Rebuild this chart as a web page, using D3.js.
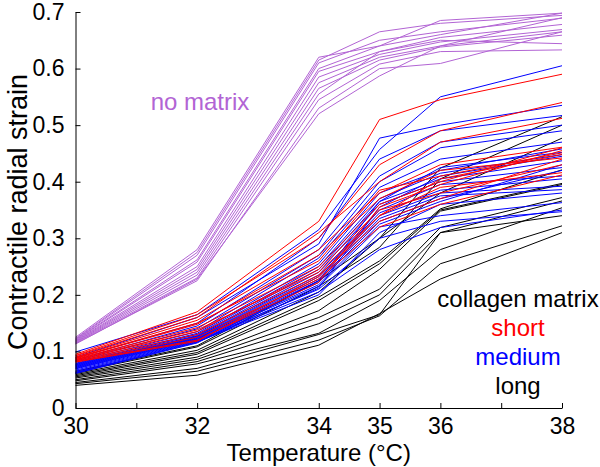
<!DOCTYPE html>
<html>
<head>
<meta charset="utf-8">
<script src="https://cdn.jsdelivr.net/npm/d3@7"></script>
<style>
  body { margin: 0; background: #fff; }
  svg text { font-family: "Liberation Sans", Arial, sans-serif; }
</style>
</head>
<body>
<div id="container"></div>
<script>
// temperatures where each trace was measured
const temps = [30, 32, 34, 35, 36, 38];
const xTicks = [30, 31, 32, 33, 34, 35, 36, 37, 38];
const xLabels = [30, 32, 34, 35, 36, 38];
const yTicks = [0, 0.1, 0.2, 0.3, 0.4, 0.5, 0.6, 0.7];

// no matrix (purple)
const noMatrix = [
  [0.125, 0.280, 0.620, 0.640, 0.685, 0.698],
  [0.123, 0.275, 0.615, 0.665, 0.680, 0.694],
  [0.122, 0.270, 0.610, 0.650, 0.665, 0.689],
  [0.121, 0.262, 0.600, 0.640, 0.660, 0.698],
  [0.120, 0.258, 0.595, 0.630, 0.655, 0.678],
  [0.119, 0.250, 0.585, 0.625, 0.647, 0.669],
  [0.118, 0.245, 0.575, 0.620, 0.640, 0.665],
  [0.117, 0.240, 0.565, 0.615, 0.638, 0.659],
  [0.116, 0.235, 0.555, 0.630, 0.650, 0.644],
  [0.115, 0.230, 0.545, 0.608, 0.630, 0.633],
  [0.114, 0.225, 0.530, 0.600, 0.609, 0.665],
  [0.113, 0.228, 0.520, 0.587, 0.640, 0.690]
];

// collagen matrix, short (red)
const shortMatrix = [
  [0.095, 0.170, 0.330, 0.510, 0.545, 0.590],
  [0.093, 0.165, 0.300, 0.430, 0.490, 0.540],
  [0.092, 0.160, 0.310, 0.400, 0.470, 0.512],
  [0.090, 0.155, 0.280, 0.380, 0.430, 0.461],
  [0.089, 0.150, 0.260, 0.385, 0.410, 0.451],
  [0.088, 0.148, 0.270, 0.370, 0.420, 0.442],
  [0.087, 0.142, 0.250, 0.360, 0.400, 0.460],
  [0.086, 0.138, 0.240, 0.340, 0.390, 0.416],
  [0.085, 0.135, 0.245, 0.350, 0.380, 0.430],
  [0.084, 0.130, 0.235, 0.330, 0.370, 0.440],
  [0.083, 0.125, 0.228, 0.320, 0.360, 0.412],
  [0.082, 0.120, 0.222, 0.355, 0.395, 0.455],
  [0.081, 0.118, 0.232, 0.340, 0.405, 0.448]
];

// collagen matrix, medium (blue)
const mediumMatrix = [
  [0.099, 0.165, 0.315, 0.457, 0.550, 0.605],
  [0.090, 0.160, 0.290, 0.477, 0.500, 0.535],
  [0.088, 0.150, 0.300, 0.440, 0.490, 0.517],
  [0.085, 0.145, 0.280, 0.410, 0.470, 0.500],
  [0.083, 0.140, 0.270, 0.400, 0.460, 0.490],
  [0.081, 0.135, 0.265, 0.390, 0.440, 0.470],
  [0.079, 0.132, 0.255, 0.380, 0.420, 0.458],
  [0.078, 0.130, 0.250, 0.370, 0.415, 0.448],
  [0.077, 0.128, 0.245, 0.365, 0.405, 0.437],
  [0.076, 0.127, 0.240, 0.360, 0.400, 0.425],
  [0.075, 0.126, 0.235, 0.350, 0.395, 0.410],
  [0.074, 0.125, 0.232, 0.345, 0.385, 0.405],
  [0.073, 0.124, 0.228, 0.340, 0.380, 0.392],
  [0.072, 0.123, 0.225, 0.335, 0.375, 0.386],
  [0.071, 0.122, 0.222, 0.330, 0.370, 0.420],
  [0.070, 0.121, 0.218, 0.325, 0.365, 0.430],
  [0.069, 0.120, 0.215, 0.320, 0.340, 0.363],
  [0.067, 0.119, 0.210, 0.300, 0.330, 0.347],
  [0.065, 0.118, 0.205, 0.280, 0.319, 0.350],
  [0.063, 0.117, 0.200, 0.310, 0.360, 0.380],
  [0.062, 0.116, 0.212, 0.355, 0.410, 0.445],
  [0.061, 0.115, 0.225, 0.365, 0.425, 0.452]
];

// collagen matrix, long (black)
const longMatrix = [
  [0.065, 0.110, 0.225, 0.300, 0.424, 0.515],
  [0.063, 0.108, 0.215, 0.284, 0.405, 0.500],
  [0.061, 0.102, 0.205, 0.300, 0.380, 0.477],
  [0.059, 0.098, 0.196, 0.260, 0.352, 0.421],
  [0.057, 0.095, 0.190, 0.255, 0.350, 0.397],
  [0.055, 0.090, 0.172, 0.245, 0.348, 0.395],
  [0.053, 0.086, 0.160, 0.210, 0.319, 0.372],
  [0.050, 0.082, 0.149, 0.200, 0.310, 0.366],
  [0.048, 0.078, 0.132, 0.190, 0.280, 0.354],
  [0.045, 0.070, 0.130, 0.165, 0.310, 0.340],
  [0.043, 0.065, 0.120, 0.163, 0.255, 0.322],
  [0.040, 0.058, 0.111, 0.167, 0.228, 0.310]
];

const groups = [
  { rows: longMatrix, color: "#000000" },
  { rows: mediumMatrix, color: "#0000ff" },
  { rows: shortMatrix, color: "#ff0000" },
  { rows: noMatrix, color: "#b264d4" }
];

const width = 600;
const height = 467;

const svg = d3.select("#container")
              .append("svg")
              .attr("width", width)
              .attr("height", height);

const xScale = d3.scaleLinear().domain([30, 38]).range([75.5, 562]);
const yScale = d3.scaleLinear().domain([0, 0.7]).range([408, 12]);

const line = d3.line()
               .x((d, i) => xScale(temps[i]))
               .y((d) => yScale(d));

groups.forEach((g) => {
  svg.append("g")
     .selectAll("path")
     .data(g.rows)
     .enter()
     .append("path")
     .attr("d", line)
     .attr("fill", "none")
     .attr("stroke", g.color)
     .attr("stroke-width", 1);
});

const xAxis = d3.axisBottom(xScale)
                .tickValues(xTicks)
                .tickFormat((d) => xLabels.includes(d) ? d : "")
                .tickSizeInner(-5)
                .tickSizeOuter(0)
                .tickPadding(10);
svg.append("g")
   .attr("transform", "translate(0," + yScale(0) + ")")
   .call(xAxis);

const yAxis = d3.axisLeft(yScale)
                .tickValues(yTicks)
                .tickFormat((d) => d === 0 ? "0" : d3.format(".1f")(d))
                .tickSizeInner(-5)
                .tickSizeOuter(0)
                .tickPadding(11);
svg.append("g")
   .attr("transform", "translate(" + xScale(30) + ",0)")
   .call(yAxis);

svg.selectAll(".tick text")
   .attr("font-size", 23)
   .attr("font-family", "Liberation Sans, Arial, sans-serif")
   .attr("fill", "#000");
svg.selectAll(".domain, .tick line").attr("stroke", "#000");

svg.append("text")
   .text("Temperature (°C)")
   .attr("x", (xScale(30) + xScale(38)) / 2)
   .attr("y", 461)
   .attr("text-anchor", "middle")
   .attr("font-size", 24);

svg.append("text")
   .text("Contractile radial strain")
   .attr("transform", "translate(27,212)rotate(-90)")
   .attr("text-anchor", "middle")
   .attr("font-size", 27);

svg.append("text")
   .text("no matrix")
   .attr("x", 200)
   .attr("y", 110)
   .attr("text-anchor", "middle")
   .attr("font-size", 24)
   .attr("fill", "#b264d4");

const legend = [
  { label: "collagen matrix", color: "#000000", y: 307 },
  { label: "short", color: "#ff0000", y: 336 },
  { label: "medium", color: "#0000ff", y: 365 },
  { label: "long", color: "#000000", y: 394 }
];
svg.selectAll(".legend")
   .data(legend)
   .enter()
   .append("text")
   .attr("class", "legend")
   .attr("x", 518)
   .attr("y", (d) => d.y)
   .attr("text-anchor", "middle")
   .attr("font-size", 24)
   .attr("fill", (d) => d.color)
   .text((d) => d.label);
</script>
</body>
</html>
